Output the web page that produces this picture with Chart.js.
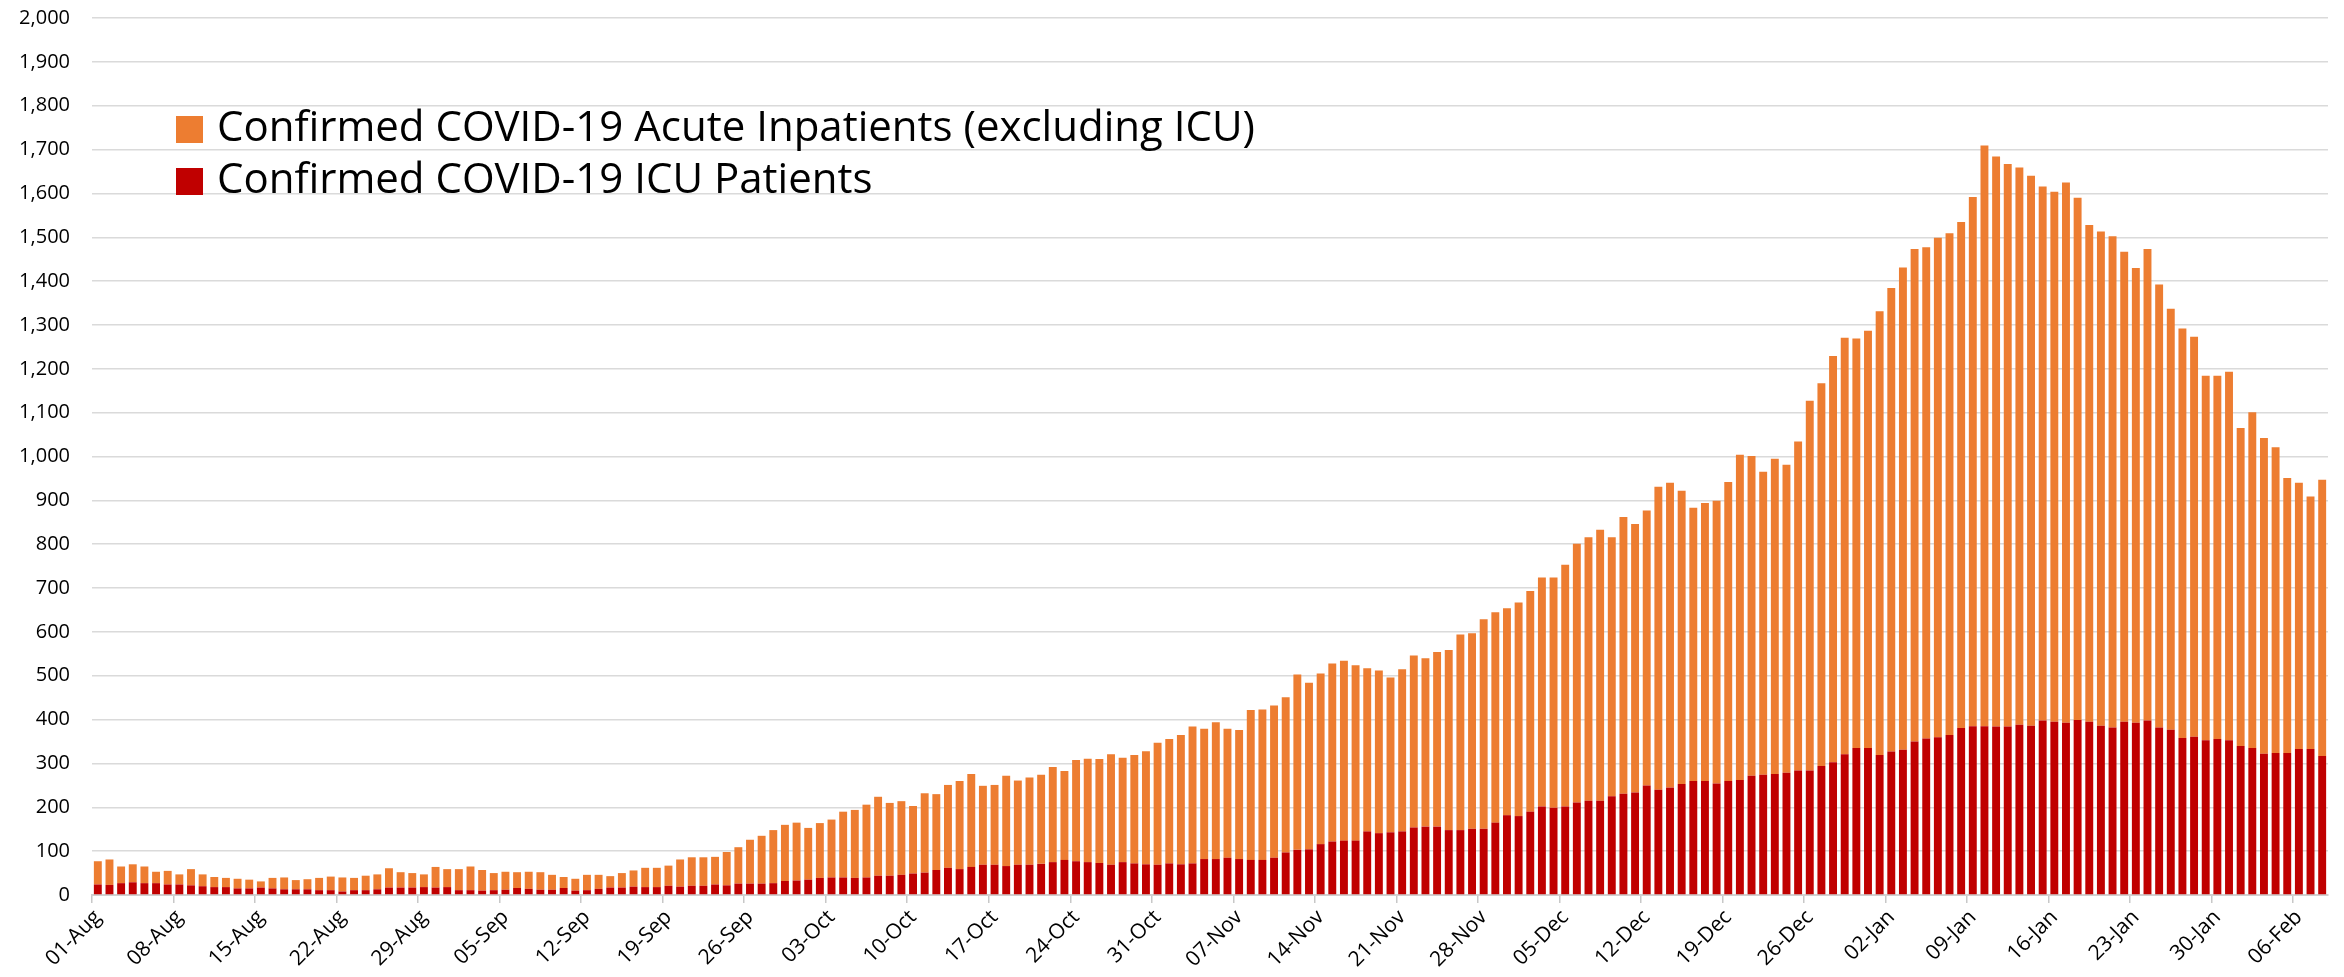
<!DOCTYPE html>
<html>
<head>
<meta charset="utf-8">
<script src="https://cdn.jsdelivr.net/npm/chart.js@4.4.1/dist/chart.umd.min.js"></script>
<style>
  html, body { margin: 0; padding: 0; background: #ffffff; }
  #wrap { width: 2344px; height: 977px; }
</style>
</head>
<body>
<div id="wrap"><canvas id="c" width="2344" height="977"></canvas></div>
<script>
const dates = [
"01-Aug","02-Aug","03-Aug","04-Aug","05-Aug","06-Aug","07-Aug","08-Aug","09-Aug","10-Aug","11-Aug","12-Aug","13-Aug","14-Aug","15-Aug","16-Aug","17-Aug","18-Aug","19-Aug","20-Aug","21-Aug","22-Aug","23-Aug","24-Aug","25-Aug","26-Aug","27-Aug","28-Aug","29-Aug","30-Aug","31-Aug",
"01-Sep","02-Sep","03-Sep","04-Sep","05-Sep","06-Sep","07-Sep","08-Sep","09-Sep","10-Sep","11-Sep","12-Sep","13-Sep","14-Sep","15-Sep","16-Sep","17-Sep","18-Sep","19-Sep","20-Sep","21-Sep","22-Sep","23-Sep","24-Sep","25-Sep","26-Sep","27-Sep","28-Sep","29-Sep","30-Sep",
"01-Oct","02-Oct","03-Oct","04-Oct","05-Oct","06-Oct","07-Oct","08-Oct","09-Oct","10-Oct","11-Oct","12-Oct","13-Oct","14-Oct","15-Oct","16-Oct","17-Oct","18-Oct","19-Oct","20-Oct","21-Oct","22-Oct","23-Oct","24-Oct","25-Oct","26-Oct","27-Oct","28-Oct","29-Oct","30-Oct","31-Oct",
"01-Nov","02-Nov","03-Nov","04-Nov","05-Nov","06-Nov","07-Nov","08-Nov","09-Nov","10-Nov","11-Nov","12-Nov","13-Nov","14-Nov","15-Nov","16-Nov","17-Nov","18-Nov","19-Nov","20-Nov","21-Nov","22-Nov","23-Nov","24-Nov","25-Nov","26-Nov","27-Nov","28-Nov","29-Nov","30-Nov",
"01-Dec","02-Dec","03-Dec","04-Dec","05-Dec","06-Dec","07-Dec","08-Dec","09-Dec","10-Dec","11-Dec","12-Dec","13-Dec","14-Dec","15-Dec","16-Dec","17-Dec","18-Dec","19-Dec","20-Dec","21-Dec","22-Dec","23-Dec","24-Dec","25-Dec","26-Dec","27-Dec","28-Dec","29-Dec","30-Dec","31-Dec",
"01-Jan","02-Jan","03-Jan","04-Jan","05-Jan","06-Jan","07-Jan","08-Jan","09-Jan","10-Jan","11-Jan","12-Jan","13-Jan","14-Jan","15-Jan","16-Jan","17-Jan","18-Jan","19-Jan","20-Jan","21-Jan","22-Jan","23-Jan","24-Jan","25-Jan","26-Jan","27-Jan","28-Jan","29-Jan","30-Jan","31-Jan",
"01-Feb","02-Feb","03-Feb","04-Feb","05-Feb","06-Feb","07-Feb","08-Feb"
];

const tickLabels = ["01-Aug","08-Aug","15-Aug","22-Aug","29-Aug","05-Sep","12-Sep","19-Sep","26-Sep","03-Oct","10-Oct","17-Oct","24-Oct","31-Oct","07-Nov","14-Nov","21-Nov","28-Nov","05-Dec","12-Dec","19-Dec","26-Dec","02-Jan","09-Jan","16-Jan","23-Jan","30-Jan","06-Feb"];

const icuPatients = [
24,23,27,29,27,27,24,24,22,20,18,18,15,15,17,15,13,13,13,11,11,8,11,11,13,17,17,17,18,17,18,
11,11,10,11,12,16,14,12,12,16,10,11,14,17,17,19,18,18,21,19,21,21,24,22,26,26,26,27,32,33,
35,39,40,40,39,40,44,44,46,49,51,57,62,59,64,69,69,66,69,69,71,75,80,77,75,73,69,75,72,70,69,
72,70,72,82,82,85,82,80,80,85,97,103,104,116,122,124,124,145,141,143,145,154,156,156,148,148,151,151,
165,182,180,190,202,199,202,211,215,215,225,231,234,250,240,245,253,260,260,254,260,262,272,274,276,279,284,284,294,303,321,
335,335,319,327,331,350,357,360,365,381,385,385,384,384,388,386,398,395,393,399,395,386,382,395,393,398,382,377,358,361,353,
356,353,340,335,322,324,324,333,333,317
];

const acuteInpatients = [
53,58,38,41,38,26,31,23,37,27,23,21,22,20,14,24,27,21,23,28,31,32,28,33,34,44,35,33,29,47,41,
48,54,47,39,41,36,39,40,34,25,27,35,32,26,33,37,44,44,46,62,65,65,63,76,83,100,109,121,128,132,
118,125,132,150,155,166,180,166,168,154,181,173,189,201,212,180,182,206,192,199,203,217,203,231,236,237,252,238,247,258,278,
284,295,312,297,312,294,294,342,343,347,354,400,380,389,406,410,400,372,371,353,370,392,384,398,411,446,446,478,
480,472,487,503,522,525,551,590,601,618,591,631,612,627,691,695,669,623,634,645,682,742,729,691,719,702,750,843,873,926,950,
934,952,1012,1057,1100,1123,1120,1139,1144,1154,1207,1324,1300,1283,1271,1254,1218,1209,1232,1191,1133,1127,1120,1072,1037,1075,1010,960,934,912,831,
828,840,725,766,720,697,627,607,576,630
];

const seriesNames = ["Confirmed COVID-19 ICU Patients", "Confirmed COVID-19 Acute Inpatients (excluding ICU)"];
const seriesColors = ["#C00000", "#ED7D31"];
const yTicks = { min: 0, max: 2000, step: 100 };

const FONT = '"Open Sans", "Noto Sans", sans-serif';

const inlineLegend = {
  id: 'inlineLegend',
  afterDraw(chart) {
    const c = chart.ctx;
    const area = chart.chartArea;
    const items = chart.data.datasets.slice().reverse();
    c.save();
    c.font = '42px ' + FONT;
    c.textBaseline = 'middle';
    c.textAlign = 'left';
    items.forEach((ds, i) => {
      const top = area.top + 98 + i * 52;
      c.fillStyle = ds.backgroundColor;
      c.fillRect(area.left + 84, top, 27, 27);
      c.fillStyle = '#000000';
      c.fillText(ds.label, area.left + 125, top + 13);
    });
    c.restore();
  }
};

function build() {
  const ctx = document.getElementById('c').getContext('2d');
  new Chart(ctx, {
    type: 'bar',
    data: {
      labels: dates,
      datasets: [
        { label: seriesNames[0], data: icuPatients, backgroundColor: seriesColors[0], stack: 's', barPercentage: 0.68, categoryPercentage: 1.0 },
        { label: seriesNames[1], data: acuteInpatients, backgroundColor: seriesColors[1], stack: 's', barPercentage: 0.68, categoryPercentage: 1.0 }
      ]
    },
    options: {
      responsive: false,
      maintainAspectRatio: false,
      animation: false,
      devicePixelRatio: 1,
      layout: { padding: { top: 18, right: 16, left: 0, bottom: 0 } },
      plugins: { legend: { display: false }, tooltip: { enabled: false } },
      scales: {
        x: {
          stacked: true,
          grid: {
            offset: true,
            drawOnChartArea: false,
            drawTicks: true,
            tickLength: 8,
            lineWidth: 1.5,
            color: (c) => (c.index !== undefined && c.index < dates.length && tickLabels.includes(dates[c.index])) ? '#c8c8c8' : 'rgba(0,0,0,0)',
            tickColor: (c) => (c.index !== undefined && c.index < dates.length && tickLabels.includes(dates[c.index])) ? '#c8c8c8' : 'rgba(0,0,0,0)'
          },
          border: { display: true, color: '#d0d0d0', width: 2 },
          ticks: {
            autoSkip: false,
            minRotation: 45,
            maxRotation: 45,
            padding: 2,
            color: '#000000',
            font: { family: FONT, size: 21 },
            callback: function(v, i) { return tickLabels.includes(dates[i]) ? dates[i] : ''; }
          },
          afterFit: (s) => { s.height = 82; }
        },
        y: {
          stacked: true,
          min: yTicks.min,
          max: yTicks.max,
          grid: { color: '#dadada', lineWidth: 1.5, drawTicks: false },
          border: { display: false },
          ticks: {
            stepSize: yTicks.step,
            padding: 22,
            color: '#000000',
            font: { family: FONT, size: 20 },
            callback: (v) => Number(v).toLocaleString('en-US')
          },
          afterFit: (s) => { s.width = 92; s.paddingTop = 0; s.paddingBottom = 0; }
        }
      }
    },
    plugins: [inlineLegend]
  });
}

Promise.all([
  document.fonts.load('20px "Open Sans"'),
  document.fonts.load('42px "Open Sans"')
]).then(build, build);
</script>
</body>
</html>
